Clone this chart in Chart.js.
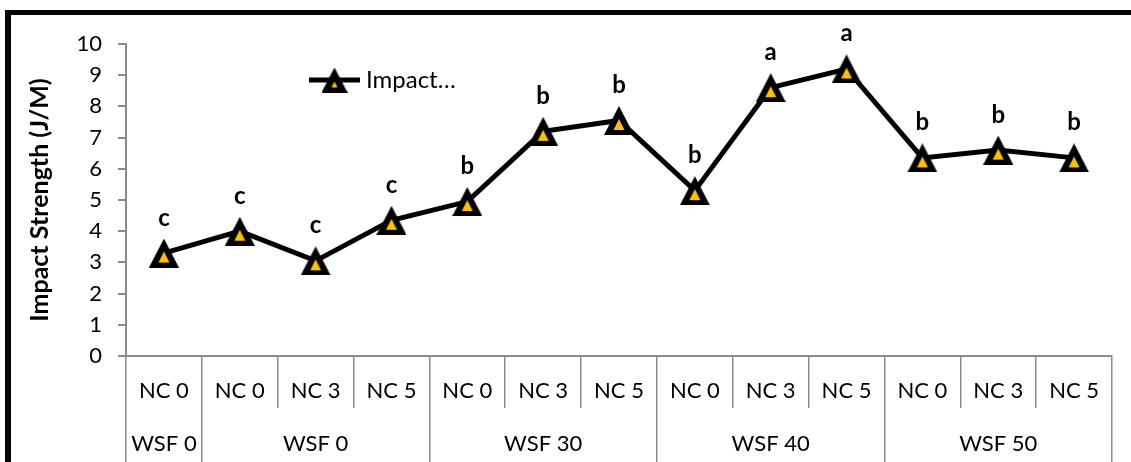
<!DOCTYPE html>
<html>
<head>
<meta charset="utf-8">
<title>Impact Strength</title>
<script src="https://cdn.jsdelivr.net/npm/chart.js@4.4.1/dist/chart.umd.min.js"></script>
<style>
  html, body { margin: 0; padding: 0; background: #fff; overflow: hidden; }
  #wrap { position: relative; width: 1131px; height: 462px; }
  #frame {
    position: absolute; left: 5px; top: 10px; width: 1200px; height: 500px;
    border-left: 6px solid #000; border-top: 5px solid #000;
    pointer-events: none;
  }
  canvas { display: block; }
</style>
</head>
<body>
<div id="wrap">
  <canvas id="chart" width="1131" height="462"></canvas>
  <div id="frame"></div>
</div>
<script>
// Nanoclay level for each sample (first row of the category axis)
const ncLabels = ['NC 0', 'NC 0', 'NC 3', 'NC 5', 'NC 0', 'NC 3', 'NC 5', 'NC 0', 'NC 3', 'NC 5', 'NC 0', 'NC 3', 'NC 5'];
// Wood/straw fibre groups (second row) and how many samples each one spans
const wsfGroups = ['WSF 0', 'WSF 0', 'WSF 30', 'WSF 40', 'WSF 50'];
const wsfGroupSizes = [1, 3, 3, 3, 3];
// Measured impact strength, J/M
const impactStrength = [3.3, 4.0, 3.05, 4.35, 4.95, 7.2, 7.55, 5.3, 8.6, 9.2, 6.35, 6.6, 6.35];
// Significance letters shown above each point
const sigLetters = ['c', 'c', 'c', 'c', 'b', 'b', 'b', 'b', 'a', 'a', 'b', 'b', 'b'];
// Value axis range
const yMin = 0, yMax = 10, yStep = 1;

const FONT = 'Lato, "Open Sans", sans-serif';
const GREY = '#8c8c8c';
const GOLD = '#FFC000';

// Black triangle with a small gold core, used as the point marker
function makeMarker(w, h, innerTop, innerBottom, innerHalf) {
  const c = document.createElement('canvas');
  c.width = w; c.height = h;
  const g = c.getContext('2d');
  g.fillStyle = '#000';
  g.beginPath();
  g.moveTo(w / 2, 0); g.lineTo(w, h); g.lineTo(0, h); g.closePath();
  g.fill();
  g.fillStyle = GOLD;
  g.beginPath();
  g.moveTo(w / 2, innerTop); g.lineTo(w / 2 + innerHalf, innerBottom); g.lineTo(w / 2 - innerHalf, innerBottom);
  g.closePath();
  g.fill();
  return c;
}
const pointMarker = makeMarker(30, 29, 13, 24, 5.5);
const legendMarker = makeMarker(26, 25, 14, 20, 3);

// Group boundaries and centres on the index scale (-0.5 .. n-0.5)
const groupBounds = [-0.5];
const groupCentres = [];
wsfGroupSizes.forEach((n, i) => {
  const start = groupBounds[i];
  groupCentres.push(start + n / 2);
  groupBounds.push(start + n);
});

// Letters above each point
const letterPlugin = {
  id: 'sigLetters',
  afterDatasetsDraw(chart) {
    const ctx = chart.ctx;
    const meta = chart.getDatasetMeta(0);
    ctx.save();
    ctx.font = 'bold 24px ' + FONT;
    ctx.fillStyle = '#000';
    ctx.textAlign = 'center';
    ctx.textBaseline = 'alphabetic';
    meta.data.forEach((pt, i) => {
      ctx.fillText(sigLetters[i], pt.x, pt.y - 27.5);
    });
    ctx.restore();
  }
};

// Single-entry legend inside the plot: line, marker, truncated label
const legendPlugin = {
  id: 'insideLegend',
  afterDraw(chart) {
    const ctx = chart.ctx;
    const a = chart.chartArea;
    const x0 = a.left + 183, x1 = a.left + 234, y = a.top + 36;
    ctx.save();
    ctx.strokeStyle = '#000';
    ctx.lineWidth = 5;
    ctx.beginPath();
    ctx.moveTo(x0, y); ctx.lineTo(x1, y);
    ctx.stroke();
    ctx.drawImage(legendMarker, (x0 + x1) / 2 - legendMarker.width / 2, y - legendMarker.height / 2);
    ctx.font = '24px ' + FONT;
    ctx.fillStyle = '#000';
    ctx.textAlign = 'left';
    ctx.textBaseline = 'middle';
    ctx.fillText('Impact\u2026', x1 + 6, y);
    ctx.restore();
  }
};

new Chart(document.getElementById('chart'), {
  type: 'line',
  data: {
    labels: ncLabels,
    datasets: [{
      label: 'Impact Strength (J/M)',
      data: impactStrength,
      borderColor: '#000',
      borderWidth: 5,
      tension: 0,
      pointStyle: pointMarker,
      pointRadius: 14,
      pointHoverRadius: 14,
      clip: false
    }]
  },
  options: {
    responsive: false,
    animation: false,
    events: [],
    layout: { padding: { top: 44, right: 19, left: 0, bottom: 0 } },
    plugins: {
      legend: { display: false },
      tooltip: { enabled: false }
    },
    scales: {
      x: {
        type: 'category',
        position: 'bottom',
        offset: true,
        grid: {
          offset: true,
          drawOnChartArea: false,
          drawTicks: true,
          tickLength: 52,
          color: GREY,
          lineWidth: 1.5
        },
        border: { display: true, color: GREY, width: 2 },
        ticks: {
          autoSkip: false,
          maxRotation: 0,
          minRotation: 0,
          padding: -30,
          color: '#000',
          font: { family: FONT, size: 22 }
        },
        afterFit(scale) { scale.height = 52; }
      },
      groups: {
        type: 'linear',
        position: 'bottom',
        min: groupBounds[0],
        max: groupBounds[groupBounds.length - 1],
        afterBuildTicks(scale) {
          const vals = groupBounds.concat(groupCentres).sort((p, q) => p - q);
          scale.ticks = vals.map(v => ({ value: v }));
        },
        grid: {
          drawOnChartArea: false,
          drawTicks: true,
          tickLength: 54,
          lineWidth: 1.5,
          color(ctx) {
            return ctx.tick && groupBounds.includes(ctx.tick.value) ? GREY : 'rgba(0,0,0,0)';
          }
        },
        border: { display: false },
        ticks: {
          autoSkip: false,
          maxRotation: 0,
          minRotation: 0,
          padding: -31,
          color: '#000',
          font: { family: FONT, size: 22 },
          callback(value) {
            const k = groupCentres.indexOf(value);
            return k >= 0 ? wsfGroups[k] : '';
          }
        },
        afterFit(scale) { scale.height = 54; }
      },
      y: {
        type: 'linear',
        position: 'left',
        min: yMin,
        max: yMax,
        ticks: {
          stepSize: yStep,
          padding: 16,
          color: '#000',
          font: { family: FONT, size: 22 }
        },
        grid: {
          drawOnChartArea: false,
          drawTicks: true,
          tickLength: 8,
          color: GREY,
          lineWidth: 2
        },
        border: { display: true, color: GREY, width: 2 },
        title: {
          display: true,
          text: 'Impact Strength (J/M)',
          color: '#000',
          font: { family: FONT, size: 25, weight: 700 },
          padding: { top: 25, bottom: 0 }
        },
        afterFit(scale) { scale.width = 126; }
      }
    }
  },
  plugins: [letterPlugin, legendPlugin]
});
</script>
</body>
</html>
